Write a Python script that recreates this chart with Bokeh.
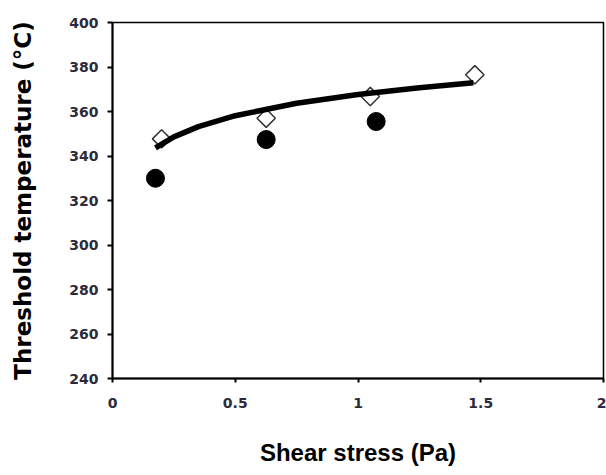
from bokeh.plotting import figure
from bokeh.models import FixedTicker, Range1d
from bokeh.embed import file_html
from bokeh.resources import INLINE
import numpy as np

# Data
diamond_x = [0.20, 0.626, 1.05, 1.476]
diamond_y = [347.7, 357.0, 366.7, 376.5]
circle_x = [0.175, 0.626, 1.074]
circle_y = [330.0, 347.4, 355.5]
fit_x = [0.175, 0.25, 0.35, 0.5, 0.75, 1.0, 1.25, 1.47]
fit_y = [343.7, 348.6, 353.2, 358.1, 363.7, 367.6, 370.7, 372.9]

x_ticks = [0, 0.5, 1, 1.5, 2]
x_tick_labels = ["0", "0.5", "1", "1.5", "2"]
y_ticks = [240, 260, 280, 300, 320, 340, 360, 380, 400]

p = figure(width=606, height=475, output_backend="svg", toolbar_location=None,
           x_range=Range1d(0, 2), y_range=Range1d(240, 400),
           min_border_left=112, min_border_right=3, min_border_top=22, min_border_bottom=97)

p.xgrid.visible = False
p.ygrid.visible = False
p.outline_line_color = "black"
p.outline_line_width = 1.5
p.background_fill_color = "white"
p.border_fill_color = "white"

tick_color = "#2b2b3b"
for ax in (p.xaxis[0], p.yaxis[0]):
    ax.axis_line_width = 2
    ax.axis_line_color = "black"
    ax.major_tick_line_color = "black"
    ax.major_tick_line_width = 2
    ax.major_tick_in = 0
    ax.minor_tick_line_color = None
    ax.major_label_text_font = "DejaVu Sans"
    ax.major_label_text_font_style = "bold"
    ax.major_label_text_font_size = "14px"
    ax.major_label_text_color = tick_color

p.xaxis.ticker = FixedTicker(ticks=x_ticks)
p.xaxis.major_label_overrides = {t: l for t, l in zip(x_ticks, x_tick_labels)}
p.xaxis.major_tick_out = 4
p.xaxis.major_label_standoff = 15
p.xaxis.axis_label = "Shear stress (Pa)"
p.xaxis.axis_label_text_font = "Liberation Sans"
p.xaxis.axis_label_text_font_style = "bold"
p.xaxis.axis_label_text_font_size = "24px"
p.xaxis.axis_label_text_color = "black"
p.xaxis.axis_label_standoff = 28

p.yaxis.ticker = FixedTicker(ticks=y_ticks)
p.yaxis.major_tick_out = 5
p.yaxis.major_label_standoff = 9
p.yaxis.axis_label = "Threshold temperature (°C)"
p.yaxis.axis_label_text_font = "DejaVu Sans"
p.yaxis.axis_label_text_font_style = "bold"
p.yaxis.axis_label_text_font_size = "23px"
p.yaxis.axis_label_text_color = "black"
p.yaxis.axis_label_standoff = 30

p.scatter(circle_x, circle_y, marker="circle", size=18, fill_color="black", line_color="black")
p.scatter(diamond_x, diamond_y, marker="square", angle=np.pi / 4, size=13, fill_color="white",
          line_color="#333333", line_width=1.5)
p.line(fit_x, fit_y, line_color="black", line_width=5.5)

open("out.html", "w").write(file_html(p, INLINE))
